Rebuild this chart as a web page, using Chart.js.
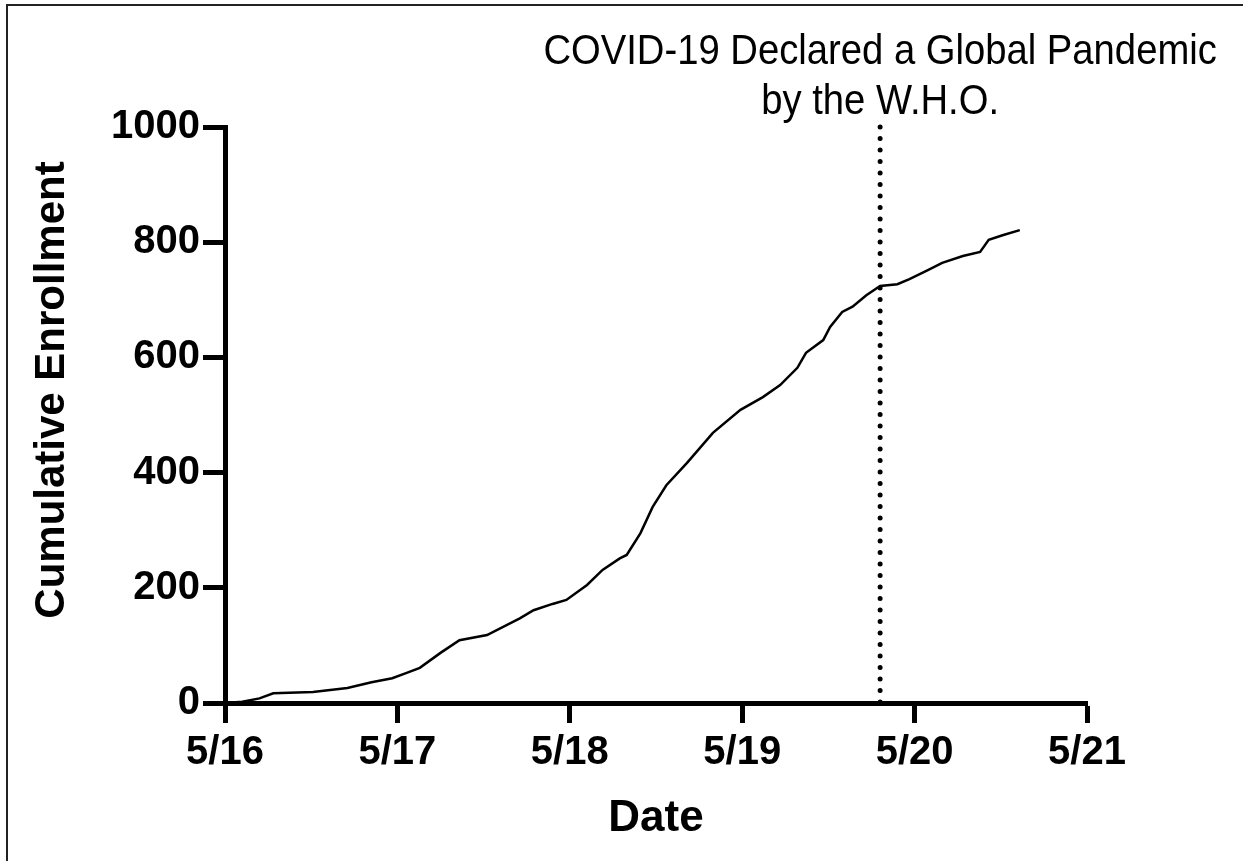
<!DOCTYPE html>
<html>
<head>
<meta charset="utf-8">
<script src="https://cdn.jsdelivr.net/npm/chart.js@4"></script>
<style>
    body { margin: 0; background: #fff; }
    #wrap { width: 1243px; height: 861px; position: relative; }
</style>
</head>
<body>
<div id="wrap"><canvas id="enrollChart"></canvas></div>
<script>
// years since May 2016
const enrollYears = [0, 0.1, 0.2, 0.28, 0.51, 0.71, 0.85, 0.97, 1.05, 1.13, 1.25, 1.36, 1.52, 1.71, 1.79, 1.9, 1.98,
    2.10, 2.19, 2.29, 2.33, 2.41, 2.48, 2.56, 2.68, 2.83, 2.99, 3.12, 3.22, 3.32, 3.37, 3.47, 3.51, 3.58, 3.64, 3.72,
    3.80, 3.90, 3.97, 4.08, 4.16, 4.28, 4.38, 4.43, 4.51, 4.61];
const enrollCount = [0, 2, 8, 17, 19, 26, 36, 43, 52, 61, 87, 109, 118, 147, 161, 172, 179,
    205, 231, 251, 257, 295, 340, 378, 417, 469, 509, 531, 552, 582, 608, 630, 653, 679, 688, 708,
    724, 727, 736, 752, 764, 776, 783, 804, 812, 821];
const dateLabels = ['5/16', '5/17', '5/18', '5/19', '5/20', '5/21'];
const yTicks = [0, 200, 400, 600, 800, 1000];
const pandemicDate = 3.80;
const pandemicText = ['COVID-19 Declared a Global Pandemic', 'by the W.H.O.'];
const yTitle = 'Cumulative Enrollment';

const FONT = "'Liberation Sans', Arial, Helvetica, sans-serif";

const pandemicPlugin = {
    id: 'pandemic',
    beforeDraw(chart) {
        const ctx = chart.ctx;
        ctx.save();
        ctx.fillStyle = '#fff';
        ctx.fillRect(0, 0, chart.width, chart.height);
        // frame lines top / left
        ctx.strokeStyle = '#222';
        ctx.lineWidth = 2;
        ctx.beginPath();
        ctx.moveTo(7, chart.height);
        ctx.lineTo(7, 5);
        ctx.lineTo(chart.width, 5);
        ctx.stroke();

        // y axis title
        ctx.fillStyle = '#000';
        ctx.font = 'bold 42px ' + FONT;
        ctx.textAlign = 'center';
        ctx.textBaseline = 'middle';
        ctx.translate(52, 390);
        ctx.rotate(-Math.PI / 2);
        ctx.fillText(yTitle, 0, 0);
        ctx.restore();
    },
    afterDatasetsDraw(chart) {
        const ctx = chart.ctx;
        const xs = chart.scales.x, ys = chart.scales.y;
        const px = xs.getPixelForValue(pandemicDate);
        ctx.save();
        ctx.strokeStyle = '#000';
        ctx.lineWidth = 5;
        ctx.lineCap = 'round';
        ctx.setLineDash([0, 11.5]);
        ctx.beginPath();
        ctx.moveTo(px, ys.getPixelForValue(1000));
        ctx.lineTo(px, ys.getPixelForValue(0));
        ctx.stroke();
        ctx.setLineDash([]);

        ctx.fillStyle = '#000';
        ctx.font = '42px ' + FONT;
        ctx.textAlign = 'center';
        ctx.textBaseline = 'alphabetic';
        const baselines = [64, 114];
        pandemicText.forEach((t, i) => {
            ctx.save();
            ctx.translate(px, baselines[i]);
            ctx.scale(0.91, 1);
            ctx.fillText(t, 0, 0);
            ctx.restore();
        });
        ctx.restore();
    }
};

const ctx = document.getElementById('enrollChart').getContext('2d');
new Chart(ctx, {
    type: 'line',
    data: {
        datasets: [{
            label: 'Cumulative Enrollment',
            data: enrollYears.map((x, i) => ({ x: x, y: enrollCount[i] })),
            borderColor: '#000',
            borderWidth: 2.5,
            pointRadius: 0,
            fill: false,
            tension: 0
        }]
    },
    options: {
        responsive: true,
        maintainAspectRatio: false,
        animation: false,
        layout: { padding: { left: 20, top: 127, right: 156, bottom: 0 } },
        plugins: {
            legend: { display: false },
            tooltip: { enabled: false }
        },
        scales: {
            x: {
                type: 'linear',
                min: 0,
                max: dateLabels.length - 1,
                afterFit: (scale) => { scale.height = 158; },
                afterBuildTicks: (scale) => {
                    scale.ticks = dateLabels.map((l, i) => ({ value: i }));
                },
                border: { display: true, color: '#000', width: 5 },
                grid: { drawOnChartArea: false, drawTicks: true, tickLength: 20, tickWidth: 5, tickColor: '#000', color: '#000' },
                ticks: {
                    color: '#000',
                    padding: 6,
                    maxRotation: 0,
                    autoSkip: false,
                    font: { family: FONT, size: 40, weight: 'bold' },
                    callback: (v) => dateLabels[v]
                },
                title: {
                    display: true,
                    text: 'Date',
                    color: '#000',
                    padding: { top: 0, bottom: 16 },
                    font: { family: FONT, size: 44, weight: 'bold' }
                }
            },
            y: {
                min: 0,
                max: 1000,
                afterFit: (scale) => { scale.width = 205; },
                afterBuildTicks: (scale) => {
                    scale.ticks = yTicks.map(v => ({ value: v }));
                },
                border: { display: true, color: '#000', width: 5 },
                grid: { drawOnChartArea: false, drawTicks: true, tickLength: 22, tickWidth: 5, tickColor: '#000', color: '#000' },
                ticks: {
                    color: '#000',
                    padding: 3,
                    font: { family: FONT, size: 40, weight: 'bold' },
                    callback: (v) => String(v)
                },
                title: { display: false }
            }
        }
    },
    plugins: [pandemicPlugin]
});
</script>
</body>
</html>
